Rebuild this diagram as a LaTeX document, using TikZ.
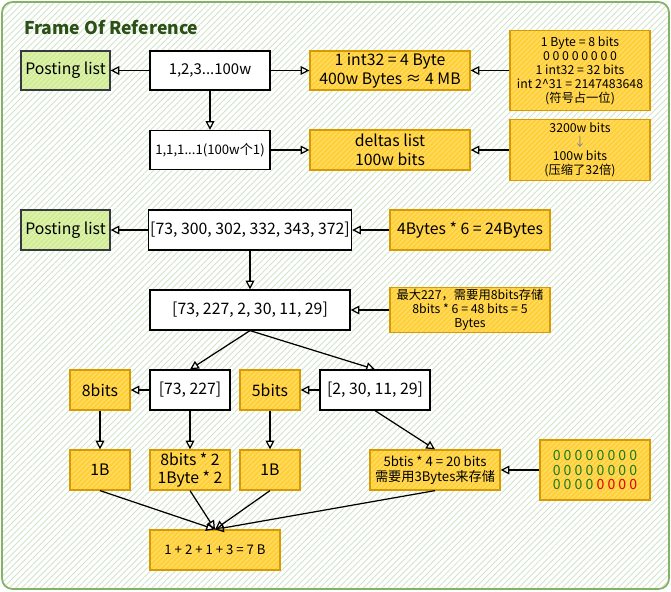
\documentclass[tikz,border=0pt]{standalone}
\usepackage{fontspec}
\setmainfont{Noto Sans CJK SC}
\usepackage{xcolor}
\usetikzlibrary{arrows.meta,patterns.meta}

\definecolor{yfill}{HTML}{FFCD28}
\definecolor{ystroke}{HTML}{D79B00}
\definecolor{gfill}{HTML}{CDEB8B}
\definecolor{gstroke}{HTML}{36393D}
\definecolor{frame}{HTML}{82B366}
\definecolor{titlegreen}{HTML}{2B5117}
\definecolor{zgreen}{HTML}{1C7A1C}
\definecolor{zred}{HTML}{E00000}

\newcommand{\fsz}[2]{\fontsize{#1}{#2}\selectfont}

\begin{document}
\begin{tikzpicture}[x=0.02cm,y=-0.02cm,
  arr/.style={-{Triangle[open,length=5pt,width=5pt]}, line width=0.7pt},
  wbox/.style={draw=black, fill=white, line width=0.7pt, align=center, inner sep=1pt, font=\fsz{9}{10.5}},
  ybox/.style={draw=ystroke, line width=0.7pt, preaction={fill=yfill!75},
    pattern={Lines[angle=45,distance=2pt,line width=0.7pt]}, pattern color=yfill,
    align=center, inner sep=1pt, font=\fsz{9}{10.5}},
  gbox/.style={draw=gstroke, line width=0.7pt, preaction={fill=gfill!70},
    pattern={Lines[angle=45,distance=2pt,line width=0.7pt]}, pattern color=gfill,
    align=center, inner sep=1pt, font=\fsz{9}{10.5}},
  notetxt/.style={font=\fsz{7}{8}}
]
\useasboundingbox (0,0) rectangle (671,591);
%draw frame
\draw[rounded corners=6pt, draw=frame, line width=1pt, preaction={fill=white},
  pattern={Lines[angle=45,distance=2.5pt,line width=0.5pt]}, pattern color=frame!35]
  (2,2) rectangle (669,589);
\node[anchor=west, text=titlegreen, font=\fsz{10}{12}\bfseries] (title) at (18,27) {Frame Of Reference};

%draw nodes: first part
\node[gbox, minimum width=1.78cm, minimum height=0.78cm] (post1) at (65.5,70.5) {Posting list};
\node[wbox, minimum width=2.4cm, minimum height=0.78cm, font=\fsz{8.5}{10}] (num1) at (210,70.5) {1,2,3...100w};
\node[wbox, minimum width=2.4cm, minimum height=0.78cm, font=\fsz{7.5}{10}] (one1) at (210,150) {1,1,1...1(100w个1)};
\node[ybox, minimum width=3.2cm, minimum height=0.78cm] (int32) at (390,70.5) {1 int32 = 4 Byte\\400w Bytes ≈ 4 MB};
\node[ybox, minimum width=3.2cm, minimum height=0.8cm] (deltas) at (390,150) {deltas list\\100w bits};
\node[ybox, notetxt, minimum width=2.8cm, minimum height=1.6cm] (note1) at (580,70.5)
  {1 Byte = 8 bits\\0 0 0 0 0 0 0 0\\1 int32 = 32 bits\\int 2\^{}31 = 2147483648\\(符号占一位)};
\node[ybox, notetxt, minimum width=2.8cm, minimum height=1.22cm] (note2) at (580,150)
  {3200w bits\\\textcolor{gray}{↓}\\100w bits\\(压缩了32倍)};

%draw nodes: second part
\node[gbox, minimum width=1.78cm, minimum height=0.8cm] (post2) at (65.5,230) {Posting list};
\node[wbox, minimum width=4cm, minimum height=0.8cm] (raw) at (250,230) {[73, 300, 302, 332, 343, 372]};
\node[wbox, minimum width=4cm, minimum height=0.8cm] (delta) at (250,310) {[73, 227, 2, 30, 11, 29]};
\node[ybox, minimum width=3.2cm, minimum height=0.8cm, font=\fsz{9}{11}] (size4) at (470,230) {4Bytes * 6 = 24Bytes};
\node[ybox, notetxt, minimum width=3.2cm, minimum height=0.8cm] (max) at (470,310)
  {最大227，需要用8bits存储\\8bits * 6 = 48 bits = 5\\Bytes};

\node[ybox, minimum width=1.2cm, minimum height=0.8cm] (b8) at (100,390) {8bits};
\node[wbox, minimum width=1.6cm, minimum height=0.8cm] (grp1) at (190,390) {[73, 227]};
\node[ybox, minimum width=1.2cm, minimum height=0.8cm] (b5) at (270,390) {5bits};
\node[wbox, minimum width=2.2cm, minimum height=0.8cm] (grp2) at (375,390) {[2, 30, 11, 29]};

\node[ybox, minimum width=1.2cm, minimum height=0.8cm] (oneB1) at (100,470) {1B};
\node[ybox, minimum width=1.6cm, minimum height=0.8cm] (two) at (190,470) {8bits * 2\\1Byte * 2};
\node[ybox, minimum width=1.2cm, minimum height=0.8cm] (oneB2) at (270,470) {1B};
\node[ybox, minimum width=2.6cm, minimum height=0.8cm, font=\fsz{7.5}{8.5}] (three) at (435,470)
  {5btis * 4 = 20 bits\\需要用3Bytes来存储};
\node[ybox, minimum width=2.2cm, minimum height=1.2cm, font=\fsz{8}{8.5}] (zeros) at (595,470)
  {\textcolor{zgreen}{0 0 0 0 0 0 0 0}\\\textcolor{zgreen}{0 0 0 0 0 0 0 0}\\\textcolor{zgreen}{0 0 0 0} \textcolor{zred}{0 0 0 0}};
\node[ybox, minimum width=2.6cm, minimum height=0.8cm, font=\fsz{7.5}{9}] (sum) at (215,550) {1 + 2 + 1 + 3 = 7 B};

%draw arrows
\draw[arr] (num1) -- (post1);
\draw[arr] (num1) -- (int32);
\draw[arr] (num1) -- (one1);
\draw[arr] (one1) -- (deltas);
\draw[arr] (note1) -- (int32);
\draw[arr] (note2) -- (deltas);
\draw[arr] (raw) -- (post2);
\draw[arr] (raw) -- (delta);
\draw[arr] (size4) -- (raw);
\draw[arr] (max) -- (delta);
\draw[arr] (delta.south) -- (grp1.north);
\draw[arr] (delta.south) -- (grp2.north);
\draw[arr] (grp1) -- (b8);
\draw[arr] (grp2) -- (b5);
\draw[arr] (b8) -- (oneB1);
\draw[arr] (grp1) -- (two);
\draw[arr] (b5) -- (oneB2);
\draw[arr] (grp2.south) -- (three.north);
\draw[arr] (zeros) -- (three);
\foreach \src in {oneB1,two,oneB2,three}{
  \draw[arr] (\src.south) -- (sum.north);
}
\end{tikzpicture}
\end{document}
